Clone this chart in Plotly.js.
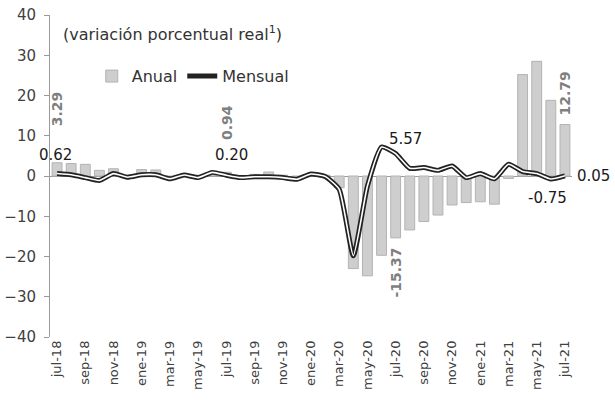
<!DOCTYPE html>
<html>
<head>
<meta charset="utf-8">
<script src="https://cdn.plot.ly/plotly-3.0.1.min.js"></script>
<style>html,body{margin:0;padding:0;background:#fff;}#chart{width:615px;height:404px;}</style>
</head>
<body>
<div id="chart"></div>
<script>
const months = ["jul-18","ago-18","sep-18","oct-18","nov-18","dic-18","ene-19","feb-19","mar-19","abr-19","may-19","jun-19",
  "jul-19","ago-19","sep-19","oct-19","nov-19","dic-19","ene-20","feb-20","mar-20","abr-20","may-20","jun-20",
  "jul-20","ago-20","sep-20","oct-20","nov-20","dic-20","ene-21","feb-21","mar-21","abr-21","may-21","jun-21","jul-21"];
const anual = [3.29,3.1,2.9,1.4,1.8,0.2,1.6,1.5,-0.5,0.3,0.2,0.6,
  0.94,-0.3,0.4,1.0,0.2,-0.5,0.3,0.2,-2.9,-23.0,-24.8,-19.7,
  -15.37,-13.4,-11.3,-9.7,-7.2,-6.6,-6.4,-7.0,-0.6,25.2,28.5,18.8,12.79];
const mensual = [0.62,0.3,-0.4,-1.1,0.6,-0.3,0.3,0.3,-0.7,0.25,-0.4,0.9,
  0.20,-0.4,-0.2,-0.2,-0.4,-0.8,0.5,-0.1,-3.3,-19.8,-2.5,7.2,
  5.57,1.9,2.1,1.4,2.5,-0.4,0.6,-0.7,2.9,1.1,0.6,-0.75,0.05];
const tickLabels = ["jul-18","sep-18","nov-18","ene-19","mar-19","may-19","jul-19","sep-19","nov-19","ene-20",
  "mar-20","may-20","jul-20","sep-20","nov-20","ene-21","mar-21","may-21","jul-21"];
const anualLabelMonths = ["jul-18","jul-19","jul-20","jul-21"];
const mensualLabelMonths = ["jul-18","jul-19","jul-20","jun-21","jul-21"];

const FONT = "DejaVu Sans, sans-serif";
const fmt = v => v.toFixed(2);

const traces = [
  {type:"bar", name:"Anual", x:months, y:anual,
   marker:{color:"#cecece", line:{color:"#b3b3b3", width:1}}},
  {type:"scatter", mode:"lines", name:"Mensual", x:months, y:mensual,
   line:{color:"#222222", width:5, shape:"spline", smoothing:0.5}},
  {type:"scatter", mode:"lines", name:"Mensual", x:months, y:mensual, showlegend:false, hoverinfo:"skip",
   line:{color:"#ffffff", width:1.6, shape:"spline", smoothing:0.5}}
];

const annotations = [];
const barShift = {"jul-18":34, "jul-19":30, "jul-20":-8, "jul-21":7};
anualLabelMonths.forEach(m => {
  const i = months.indexOf(m); const v = anual[i];
  annotations.push({x:m, y:v, xref:"x", yref:"y", text:fmt(v), showarrow:false, textangle:-90,
    yanchor: v>=0 ? "bottom":"top", yshift: barShift[m],
    font:{family:FONT, size:14, color:"#7f7f7f", weight:"bold"}});
});
const lineLab = {"jul-18":{ys:8,xs:-2,xa:"center",ya:"bottom"}, "jul-19":{ys:9,xs:5,xa:"center",ya:"bottom"},
  "jul-20":{ys:4,xs:10,xa:"center",ya:"bottom"}, "jun-21":{ys:-8,xs:-3,xa:"center",ya:"top"},
  "jul-21":{ys:0,xs:10,xa:"left",ya:"middle"}};
mensualLabelMonths.forEach(m => {
  const i = months.indexOf(m); const v = mensual[i]; const o = lineLab[m];
  annotations.push({x:m, y:v, xref:"x", yref:"y", text:fmt(v), showarrow:false,
    xanchor:o.xa, yanchor:o.ya, yshift:o.ys, xshift:o.xs,
    font:{family:FONT, size:15, color:"#1a1a1a"}});
});
annotations.push({xref:"paper", yref:"paper", x:0.022, y:0.98, xanchor:"left", yanchor:"top",
  text:"(variación porcentual real<sup>1</sup>)", showarrow:false,
  font:{family:FONT, size:16, color:"#333333"}});

const layout = {
  width:615, height:404,
  margin:{l:50, r:43, t:15, b:67},
  paper_bgcolor:"#ffffff", plot_bgcolor:"#ffffff",
  font:{family:FONT, size:13, color:"#404040"},
  bargap:0.3,
  showlegend:true,
  legend:{orientation:"h", x:0.08, y:0.81, xanchor:"left", yanchor:"middle",
    font:{family:FONT, size:16, color:"#333333"}, bgcolor:"rgba(0,0,0,0)", itemwidth:30},
  xaxis:{type:"category", categoryorder:"array", categoryarray:months, automargin:false,
    range:[-0.5, months.length - 0.5], autorange:false,
    tickvals:tickLabels, ticktext:tickLabels, tickangle:-90,
    showgrid:false, showline:false, zeroline:false, ticks:"",
    tickfont:{family:FONT, size:13, color:"#404040"}},
  yaxis:{range:[-40,40], dtick:10, tick0:0, automargin:false, showgrid:false, zeroline:true, zerolinecolor:"#9a9a9a", zerolinewidth:1,
    showline:true, linecolor:"#9a9a9a", linewidth:1, ticks:"outside", ticklen:5, tickcolor:"#9a9a9a",
    ticklabelstandoff:5,
    tickfont:{family:FONT, size:15, color:"#404040"}},
  annotations:annotations
};
Plotly.newPlot("chart", traces, layout, {displayModeBar:false, staticPlot:true});
</script>
</body>
</html>
